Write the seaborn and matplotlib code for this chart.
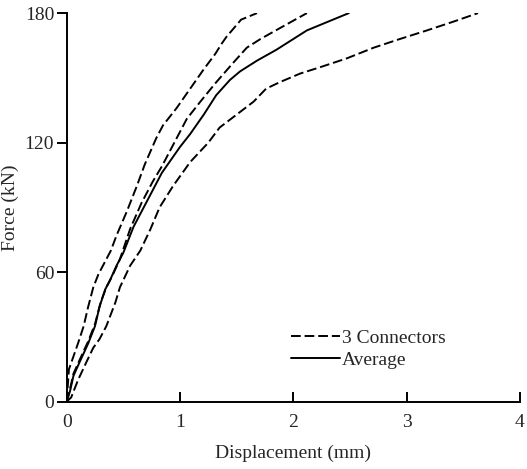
import pandas as pd
import numpy as np
import seaborn as sns
import matplotlib.pyplot as plt
from matplotlib.lines import Line2D

# Load-slip curves
a_disp = [0, 0.02, 0.06, 0.10, 0.15, 0.19, 0.235, 0.28, 0.32, 0.39, 0.44, 0.53, 0.62,
          0.69, 0.79, 0.85, 0.97, 1.09, 1.21, 1.31, 1.37, 1.41, 1.54, 1.68]
a_force = [0, 15, 21, 27, 35, 44, 53, 59, 63, 70, 77, 88, 100,
           110, 122, 128, 136, 145, 154, 161, 166, 169, 177, 180]

b_disp = [0, 0.03, 0.06, 0.12, 0.19, 0.25, 0.30, 0.35, 0.40, 0.47, 0.56, 0.66, 0.76,
          0.84, 0.96, 1.06, 1.18, 1.32, 1.47, 1.59, 1.71, 1.88, 2.12]
b_force = [0, 6, 13, 20, 28, 36, 46, 53, 58, 66, 80, 92, 102,
           109, 121, 131, 139, 148, 157, 164, 168, 173, 180]

c_disp = [0, 0.04, 0.10, 0.18, 0.235, 0.29, 0.35, 0.43, 0.47, 0.56, 0.65, 0.74, 0.82,
          0.94, 1.09, 1.25, 1.35, 1.50, 1.65, 1.76, 1.88, 2.06, 2.24, 2.47, 2.71,
          2.94, 3.18, 3.41, 3.63]
c_force = [0, 2, 10, 19, 25, 29, 35, 46, 53, 63, 70, 80, 90,
           100, 111, 120, 127, 133, 139, 145, 148, 152, 155, 159, 164,
           168, 172, 176, 180]

avg_disp = [0, 0.03, 0.06, 0.12, 0.19, 0.25, 0.29, 0.34, 0.38, 0.44, 0.50, 0.59, 0.71,
            0.84, 1.00, 1.09, 1.21, 1.32, 1.44, 1.53, 1.68, 1.85, 2.06, 2.12, 2.49]
avg_force = [0, 5, 12, 19, 27, 35, 44, 52, 56, 63, 69, 81, 93,
             106, 118, 124, 133, 142, 149, 153, 158, 163, 170, 172, 180]

frames = []
for name, d, f in [('C1', a_disp, a_force), ('C2', b_disp, b_force),
                   ('C3', c_disp, c_force), ('Average', avg_disp, avg_force)]:
    frames.append(pd.DataFrame({'curve': name, 'disp': d, 'force': f}))
df = pd.concat(frames, ignore_index=True)

sns.set_style('ticks')
plt.rcParams['font.family'] = ['Liberation Serif', 'DejaVu Serif']

dash = (0, (5, 2))
fig = plt.figure(figsize=(5.27, 4.69), dpi=100)
ax = fig.add_axes([0.1265, 0.1435, 0.860, 0.8285])

conn = df[df['curve'] != 'Average']
sns.lineplot(data=conn, x='disp', y='force', units='curve', estimator=None, sort=False,
             color='black', linewidth=1.4, ax=ax)
for ln in ax.lines:
    ln.set_linestyle(dash)
sns.lineplot(data=df[df['curve'] == 'Average'], x='disp', y='force', sort=False,
             estimator=None, color='black', linewidth=1.4, ax=ax)

ax.set_xlim(0, 4)
ax.set_ylim(0, 180)
ax.set_xticks([0, 1, 2, 3, 4])
ax.set_yticks([0, 60, 120, 180])
sns.despine(ax=ax)
for s in ['left', 'bottom']:
    ax.spines[s].set_color('black')
    ax.spines[s].set_linewidth(1.4)
ax.tick_params(axis='x', direction='in', length=7, width=1.4, color='black', labelsize=14, pad=9)
ax.tick_params(axis='y', direction='out', length=7, width=1.4, color='black', labelsize=14, pad=2)
ax.set_xlabel('Displacement (mm)', fontsize=14, labelpad=10)
ax.set_ylabel('Force (kN)', fontsize=14, labelpad=4)

handles = [Line2D([], [], color='black', linewidth=1.4, linestyle=dash),
           Line2D([], [], color='black', linewidth=1.4)]
ax.legend(handles, ['3 Connectors', 'Average'], loc='center left',
          bbox_to_anchor=(0.496, 0.135), frameon=False, fontsize=14,
          handlelength=2.5, handletextpad=0.1, labelspacing=0.25,
          borderpad=0, borderaxespad=0)

fig.savefig('out.png', dpi=100)
